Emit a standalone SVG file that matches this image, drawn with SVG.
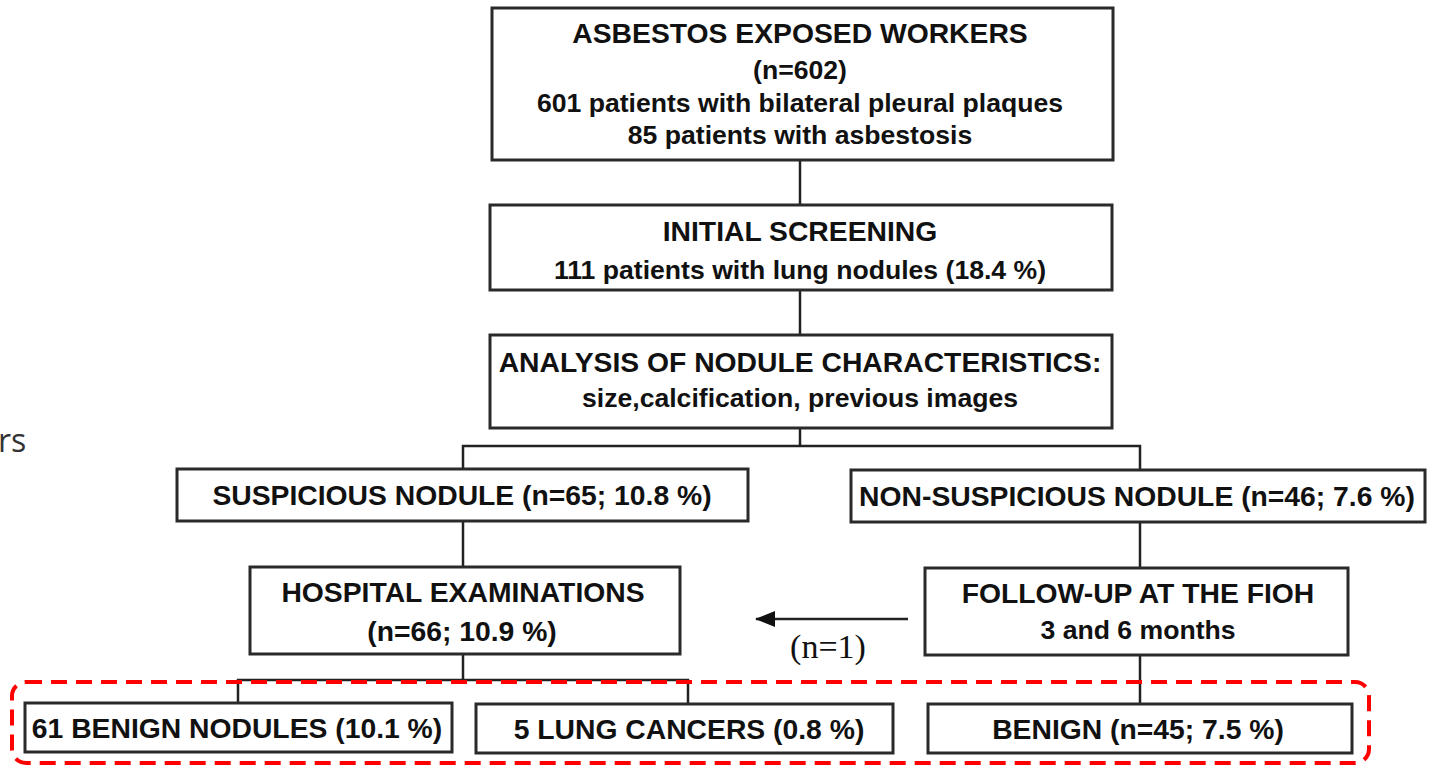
<svg xmlns="http://www.w3.org/2000/svg" width="1437" height="767" viewBox="0 0 1437 767">
<style>
.box{fill:#fff;stroke:#2a2a2a;stroke-width:3}
.t{font-family:"Liberation Sans",Arial,sans-serif;font-size:28.3px;font-weight:bold;fill:#111;text-anchor:middle}
.s{font-size:26.6px}
.c{stroke:#222;stroke-width:2.5;fill:none}
.side{font-family:"Open Sans","Noto Sans",sans-serif;font-size:32px;fill:#333}
.serif{font-family:"Liberation Serif","Times New Roman",serif;font-size:34px;fill:#111;text-anchor:middle}
</style>
<defs>
<marker id="ah2" viewBox="0 0 20 16" markerWidth="20" markerHeight="16" refX="19" refY="8" orient="auto" markerUnits="userSpaceOnUse">
<path d="M0,0 L20,8 L0,16 Z" fill="#111"/>
</marker>
</defs>
<rect width="1437" height="767" fill="#fff"/>
<text class="side" x="-2" y="452">rs</text>

<g id="connectors">
<line class="c" x1="800" y1="160" x2="800" y2="205"/>
<line class="c" x1="800" y1="290" x2="800" y2="335"/>
<line class="c" x1="800" y1="428" x2="800" y2="446"/>
<polyline class="c" points="463,470 463,446 1140,446 1140,470"/>
<line class="c" x1="463" y1="521" x2="463" y2="567"/>
<line class="c" x1="1140" y1="522" x2="1140" y2="568"/>
<line class="c" x1="463" y1="654" x2="463" y2="680"/>
<polyline class="c" points="238,703 238,680 688,680 688,703"/>
<line class="c" x1="1140" y1="655" x2="1140" y2="704"/>
<line class="c" x1="908" y1="619" x2="756" y2="619" marker-end="url(#ah2)"/>
<text class="serif" x="828" y="658">(n=1)</text>
</g>

<g id="n1">
<rect class="box" x="492" y="8" width="621" height="152"/>
<text class="t" x="800" y="43">ASBESTOS EXPOSED WORKERS</text>
<text class="t s" x="800" y="79">(n=602)</text>
<text class="t s" x="800" y="112">601 patients with bilateral pleural plaques</text>
<text class="t s" x="800" y="144">85 patients with asbestosis</text>
</g>
<g id="n2">
<rect class="box" x="490" y="205" width="622" height="85"/>
<text class="t" x="800" y="241">INITIAL SCREENING</text>
<text class="t s" x="800" y="279">111 patients with lung nodules (18.4 %)</text>
</g>
<g id="n3">
<rect class="box" x="490" y="335" width="622" height="93"/>
<text class="t" x="800" y="372">ANALYSIS OF NODULE CHARACTERISTICS:</text>
<text class="t s" x="800" y="407">size,calcification, previous images</text>
</g>
<g id="n4">
<rect class="box" x="177" y="469" width="571" height="52"/>
<text class="t" x="462" y="505">SUSPICIOUS NODULE (n=65; 10.8 %)</text>
</g>
<g id="n5">
<rect class="box" x="851" y="470" width="574" height="52"/>
<text class="t" x="1137" y="506">NON-SUSPICIOUS NODULE (n=46; 7.6 %)</text>
</g>
<g id="n6">
<rect class="box" x="250" y="567" width="430" height="87"/>
<text class="t" x="463" y="602">HOSPITAL EXAMINATIONS</text>
<text class="t" x="462" y="641">(n=66; 10.9 %)</text>
</g>
<g id="n7">
<rect class="box" x="925" y="568" width="423" height="87"/>
<text class="t" x="1138" y="603">FOLLOW-UP AT THE FIOH</text>
<text class="t s" x="1138" y="639">3 and 6 months</text>
</g>
<g id="n8">
<rect class="box" x="25" y="703" width="427" height="49"/>
<text class="t" x="237" y="738">61 BENIGN NODULES (10.1 %)</text>
</g>
<g id="n9">
<rect class="box" x="476" y="704" width="417" height="49"/>
<text class="t" x="689" y="739">5 LUNG CANCERS (0.8 %)</text>
</g>
<g id="n10">
<rect class="box" x="928" y="704" width="424" height="49"/>
<text class="t" x="1138" y="739">BENIGN (n=45; 7.5 %)</text>
</g>
<g id="highlight">
<rect x="12" y="682" width="1357" height="81" rx="14" fill="none" stroke="#f00" stroke-width="4" stroke-dasharray="16,9"/>
</g>
</svg>
